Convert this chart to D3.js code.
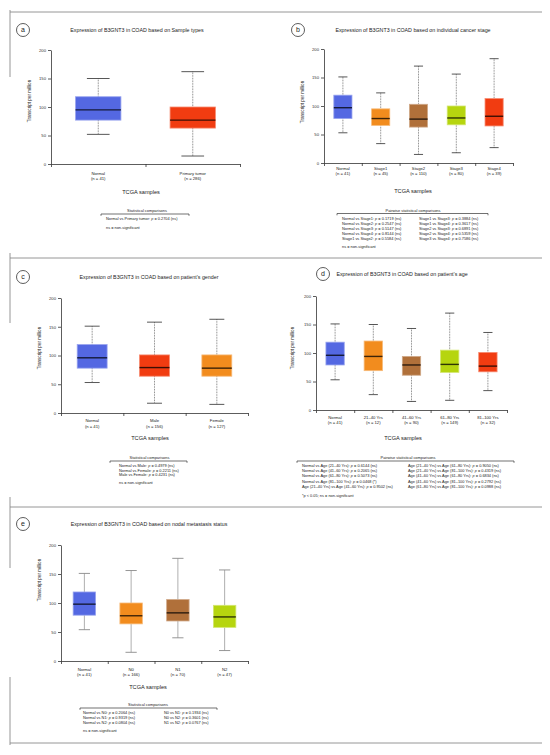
<!DOCTYPE html>
<html>
<head>
<meta charset="utf-8">
<script src="https://cdn.jsdelivr.net/npm/d3@7"></script>
<style>
  body { margin: 0; background: #fff; }
  svg { display: block; font-family: "Liberation Sans", Arial, sans-serif; }
</style>
</head>
<body>
<div id="chart"></div>
<script>
// ---- data ----
let yTicks = [0, 50, 100, 150, 200];

// a: sample types
let sampleCats = ["Normal", "Primary tumor"];
let sampleN = ["(n = 41)", "(n = 286)"];
let sampleMax = [150, 162];
let sampleQ3 = [118, 100];
let sampleMed = [95, 77];
let sampleQ1 = [77, 63];
let sampleMin = [52, 14];
let sampleStats = ["Normal vs Primary tumor: p = 0.2704 (ns)"];

// b: cancer stage
let stageCats = ["Normal", "Stage1", "Stage2", "Stage3", "Stage4"];
let stageN = ["(n = 41)", "(n = 45)", "(n = 110)", "(n = 80)", "(n = 39)"];
let stageMax = [151, 123, 170, 156, 183];
let stageQ3 = [119, 95, 103, 100, 113];
let stageMed = [97, 78, 77, 79, 82];
let stageQ1 = [78, 66, 63, 67, 65];
let stageMin = [53, 34, 15, 18, 27];
let stageStatsLeft = [
	"Normal vs Stage1: p = 0.1719 (ns)",
	"Normal vs Stage2: p = 0.2547 (ns)",
	"Normal vs Stage3: p = 0.5147 (ns)",
	"Normal vs Stage4: p = 0.8144 (ns)",
	"Stage1 vs Stage2: p = 0.5584 (ns)"
];
let stageStatsRight = [
	"Stage1 vs Stage3: p = 0.3884 (ns)",
	"Stage1 vs Stage4: p = 0.3617 (ns)",
	"Stage2 vs Stage3: p = 0.6891 (ns)",
	"Stage2 vs Stage4: p = 0.5359 (ns)",
	"Stage3 vs Stage4: p = 0.7586 (ns)"
];

// c: gender
let genderCats = ["Normal", "Male", "Female"];
let genderN = ["(n = 41)", "(n = 156)", "(n = 127)"];
let genderMax = [151, 158, 163];
let genderQ3 = [119, 101, 101];
let genderMed = [96, 79, 78];
let genderQ1 = [78, 64, 64];
let genderMin = [53, 17, 15];
let genderStats = [
	"Normal vs Male: p = 0.4979 (ns)",
	"Normal vs Female: p = 0.2211 (ns)",
	"Male vs Female: p = 0.4231 (ns)"
];

// d: age
let ageCats = ["Normal", "21\u201340 Yrs", "41\u201360 Yrs", "61\u201380 Yrs", "81\u2013100 Yrs"];
let ageN = ["(n = 41)", "(n = 12)", "(n = 90)", "(n = 149)", "(n = 32)"];
let ageMax = [151, 150, 143, 170, 136];
let ageQ3 = [119, 121, 94, 105, 101];
let ageMed = [96, 94, 79, 80, 77];
let ageQ1 = [79, 69, 61, 66, 67];
let ageMin = [53, 27, 15, 17, 34];
let ageStatsLeft = [
	"Normal vs Age (21\u201340 Yrs): p = 0.6144 (ns)",
	"Normal vs Age (41\u201360 Yrs): p = 0.2065 (ns)",
	"Normal vs Age (61\u201380 Yrs): p = 0.5073 (ns)",
	"Normal vs Age (81\u2013100 Yrs): p = 0.0468 (*)",
	"Age (21\u201340 Yrs) vs Age (41\u201360 Yrs): p = 0.9502 (ns)"
];
let ageStatsRight = [
	"Age (21\u201340 Yrs) vs Age (61\u201380 Yrs): p = 0.9050 (ns)",
	"Age (21\u201340 Yrs) vs Age (81\u2013100 Yrs): p = 0.4319 (ns)",
	"Age (41\u201360 Yrs) vs Age (61\u201380 Yrs): p = 0.6834 (ns)",
	"Age (41\u201360 Yrs) vs Age (81\u2013100 Yrs): p = 0.2792 (ns)",
	"Age (61\u201380 Yrs) vs Age (81\u2013100 Yrs): p = 0.0988 (ns)"
];

// e: nodal metastasis
let nodalCats = ["Normal", "N0", "N1", "N2"];
let nodalN = ["(n = 41)", "(n = 166)", "(n = 70)", "(n = 47)"];
let nodalMax = [151, 156, 177, 157];
let nodalQ3 = [119, 100, 106, 96];
let nodalMed = [98, 78, 83, 76];
let nodalQ1 = [79, 64, 69, 58];
let nodalMin = [54, 15, 40, 18];
let nodalStatsLeft = [
	"Normal vs N0: p = 0.2064 (ns)",
	"Normal vs N1: p = 0.9319 (ns)",
	"Normal vs N2: p = 0.0804 (ns)"
];
let nodalStatsRight = [
	"N0 vs N1: p = 0.1934 (ns)",
	"N0 vs N2: p = 0.3601 (ns)",
	"N1 vs N2: p = 0.0767 (ns)"
];

// ---- colours ----
let BLUE = "#5468e2", RED = "#f13c11", ORANGE = "#f28c1e", BROWN = "#b0703a", LIME = "#b6d50f";

let width = 550, height = 755;
let svg = d3.select("#chart").append("svg")
	.attr("width", width)
	.attr("height", height);

// frame lines between panels
let frameY = [12, 258, 507, 743];
frameY.forEach(function(fy) {
	svg.append("line")
		.attr("x1", 10).attr("x2", 542).attr("y1", fy).attr("y2", fy)
		.attr("stroke", "#8a8a8a").attr("stroke-width", 0.9);
});
[[10, 77], [253, 323], [497, 568], [677, 745]].forEach(function(s) {
	svg.append("line")
		.attr("x1", 10).attr("x2", 10).attr("y1", s[0]).attr("y2", s[1])
		.attr("stroke", "#8a8a8a").attr("stroke-width", 0.9);
});

// writes "... p = ..." with an italic p
function statText(g, str, x, y) {
	let t = g.append("text").attr("x", x).attr("y", y)
		.attr("font-size", 3.9).attr("fill", "#222");
	let i = str.indexOf(": p");
	if (i < 0) { t.text(str); return; }
	t.append("tspan").text(str.slice(0, i + 2));
	t.append("tspan").attr("font-style", "italic").text("p");
	t.append("tspan").text(str.slice(i + 3));
}

function drawPanel(p) {
	let g = svg.append("g");
	let n = p.cats.length;

	let x = d3.scaleBand().domain(p.cats).range([p.x0, p.x1]);
	let xl = d3.scaleLinear().domain([0, n]).range([p.x0, p.x1]);
	let y = d3.scaleLinear().domain([0, 200]).range([p.yBot, p.yTop]);

	// panel letter
	g.append("circle").attr("cx", p.cx).attr("cy", p.cy).attr("r", 6.5)
		.attr("fill", "none").attr("stroke", "#333").attr("stroke-width", 0.8);
	g.append("text").attr("x", p.cx).attr("y", p.cy + 2.3)
		.attr("text-anchor", "middle").attr("font-size", 7).attr("fill", "#222")
		.text(p.letter);

	// title
	g.append("text").attr("x", p.titleX).attr("y", p.cy + 1.8)
		.attr("text-anchor", "middle").attr("font-size", 5.3).attr("fill", "#222")
		.text(p.title);

	// axes
	let xa = g.append("g")
		.attr("transform", "translate(0," + p.yBot + ")")
		.call(d3.axisBottom(xl).tickValues(d3.range(n + 1)).tickFormat("").tickSize(3).tickSizeOuter(0));
	let ya = g.append("g")
		.attr("transform", "translate(" + p.x0 + ",0)")
		.call(d3.axisLeft(y).tickValues(yTicks).tickSize(3).tickSizeOuter(0).tickPadding(2));
	[xa, ya].forEach(function(a) {
		a.selectAll("path, line").attr("stroke", "#333").attr("stroke-width", 0.8);
		a.selectAll("text").attr("font-size", 4.2).attr("fill", "#333")
			.attr("font-family", "Liberation Sans, Arial, sans-serif");
	});

	g.append("text")
		.attr("transform", "translate(" + p.ylabX + "," + p.ylabY + ") rotate(-90)")
		.attr("text-anchor", "middle").attr("font-size", 4.6).attr("fill", "#222")
		.text("Transcript per million");

	// boxes
	let bw = x.bandwidth() * 0.48;
	let cw = bw * 0.5;
	p.cats.forEach(function(c, i) {
		let cx = x(c) + x.bandwidth() / 2;
		let col = p.colors[i];
		let wh = g.append("g")
			.attr("stroke", p.solidWhisker ? "#9a9a9a" : "#444")
			.attr("stroke-width", p.solidWhisker ? 0.8 : 0.7)
			.attr("stroke-dasharray", p.solidWhisker ? null : "0.8,0.8");
		wh.append("line").attr("x1", cx).attr("x2", cx).attr("y1", y(p.max[i])).attr("y2", y(p.q3[i]));
		wh.append("line").attr("x1", cx).attr("x2", cx).attr("y1", y(p.q1[i])).attr("y2", y(p.min[i]));
		[p.max[i], p.min[i]].forEach(function(v) {
			g.append("line").attr("x1", cx - cw / 2).attr("x2", cx + cw / 2)
				.attr("y1", y(v)).attr("y2", y(v))
				.attr("stroke", p.solidWhisker ? "#8a8a8a" : "#444").attr("stroke-width", 0.9);
		});
		g.append("rect")
			.attr("x", cx - bw / 2).attr("width", bw)
			.attr("y", y(p.q3[i])).attr("height", y(p.q1[i]) - y(p.q3[i]))
			.attr("fill", col)
			.attr("stroke", d3.interpolateRgb(col, "#fff")(0.4)).attr("stroke-width", 0.8);
		g.append("line").attr("x1", cx - bw / 2).attr("x2", cx + bw / 2)
			.attr("y1", y(p.med[i])).attr("y2", y(p.med[i]))
			.attr("stroke", d3.interpolateRgb(col, "#000")(0.75)).attr("stroke-width", 1.4);

		g.append("text").attr("x", cx).attr("y", p.lab1Y)
			.attr("text-anchor", "middle").attr("font-size", 4.2).attr("fill", "#222").text(c);
		g.append("text").attr("x", cx).attr("y", p.lab2Y)
			.attr("text-anchor", "middle").attr("font-size", 4.2).attr("fill", "#222").text(p.nLab[i]);
	});

	g.append("text").attr("x", p.tcgaX).attr("y", p.tcgaY)
		.attr("text-anchor", "middle").attr("font-size", 5.6).attr("fill", "#222")
		.text("TCGA samples");

	// statistical comparisons block
	g.append("text").attr("x", p.headX).attr("y", p.headY)
		.attr("text-anchor", "middle").attr("font-size", 3.9).attr("fill", "#222")
		.text(p.heading);
	g.append("path")
		.attr("d", "M" + p.brX0 + "," + (p.brY + 1.8) + "L" + p.brX0 + "," + p.brY +
			"L" + p.brX1 + "," + p.brY + "L" + p.brX1 + "," + (p.brY + 1.8))
		.attr("fill", "none").attr("stroke", "#333").attr("stroke-width", 0.7);
	p.cols.forEach(function(col) {
		col.rows.forEach(function(r, j) {
			statText(g, r, col.x, p.rowY + j * p.rowStep);
		});
	});
	g.append("text").attr("x", p.noteX).attr("y", p.noteY)
		.attr("font-size", 3.9).attr("fill", "#222").text(p.note);
}

drawPanel({
	letter: "a", title: "Expression of B3GNT3 in COAD based on Sample types",
	cats: sampleCats, nLab: sampleN, max: sampleMax, q3: sampleQ3, med: sampleMed, q1: sampleQ1, min: sampleMin,
	colors: [BLUE, RED],
	x0: 51, x1: 240, yTop: 50, yBot: 164,
	cx: 23, cy: 30, titleX: 137,
	lab1Y: 175, lab2Y: 180, tcgaX: 141, tcgaY: 193.5,
	ylabX: 31, ylabY: 101,
	heading: "Statistical comparisons", headX: 147, headY: 212,
	brX0: 101, brX1: 189, brY: 214,
	cols: [{x: 106, rows: sampleStats}], rowY: 220, rowStep: 5,
	note: "ns = non-significant", noteX: 106, noteY: 229
});

drawPanel({
	letter: "b", title: "Expression of B3GNT3 in COAD based on individual cancer stage",
	cats: stageCats, nLab: stageN, max: stageMax, q3: stageQ3, med: stageMed, q1: stageQ1, min: stageMin,
	colors: [BLUE, ORANGE, BROWN, LIME, RED],
	x0: 324, x1: 513, yTop: 49, yBot: 163,
	cx: 298, cy: 30, titleX: 413,
	lab1Y: 170, lab2Y: 175, tcgaX: 413, tcgaY: 193,
	ylabX: 304, ylabY: 102,
	heading: "Pairwise statistical comparisons", headX: 413, headY: 211.5,
	brX0: 337, brX1: 488, brY: 213.5,
	cols: [{x: 342, rows: stageStatsLeft}, {x: 419, rows: stageStatsRight}], rowY: 219.5, rowStep: 5,
	note: "ns = non-significant", noteX: 342, noteY: 247.5
});

drawPanel({
	letter: "c", title: "Expression of B3GNT3 in COAD based on patient\u2019s gender",
	cats: genderCats, nLab: genderN, max: genderMax, q3: genderQ3, med: genderMed, q1: genderQ1, min: genderMin,
	colors: [BLUE, RED, ORANGE],
	x0: 61, x1: 248, yTop: 298, yBot: 413,
	cx: 23, cy: 277, titleX: 149,
	lab1Y: 422, lab2Y: 427.5, tcgaX: 150, tcgaY: 440,
	ylabX: 41, ylabY: 348,
	heading: "Statistical comparisons", headX: 149.5, headY: 459,
	brX0: 110, brX1: 187, brY: 461,
	cols: [{x: 119, rows: genderStats}], rowY: 467, rowStep: 4.7,
	note: "ns = non-significant", noteX: 119, noteY: 484
});

drawPanel({
	letter: "d", title: "Expression of B3GNT3 in COAD based on patient\u2019s age",
	cats: ageCats, nLab: ageN, max: ageMax, q3: ageQ3, med: ageMed, q1: ageQ1, min: ageMin,
	colors: [BLUE, ORANGE, BROWN, LIME, RED],
	x0: 316, x1: 507, yTop: 296, yBot: 410,
	cx: 323, cy: 274, titleX: 402,
	lab1Y: 419, lab2Y: 424, tcgaX: 403, tcgaY: 440,
	ylabX: 294, ylabY: 348,
	heading: "Pairwise statistical comparisons", headX: 408, headY: 459,
	brX0: 297, brX1: 514, brY: 461,
	cols: [{x: 302, rows: ageStatsLeft}, {x: 408, rows: ageStatsRight}], rowY: 467, rowStep: 5.2,
	note: "*p < 0.05; ns = non-significant", noteX: 302, noteY: 497
});

drawPanel({
	letter: "e", title: "Expression of B3GNT3 in COAD based on nodal metastasis status",
	cats: nodalCats, nLab: nodalN, max: nodalMax, q3: nodalQ3, med: nodalMed, q1: nodalQ1, min: nodalMin,
	colors: [BLUE, ORANGE, BROWN, LIME],
	x0: 61, x1: 248, yTop: 545, yBot: 661, solidWhisker: true,
	cx: 23, cy: 524, titleX: 149,
	lab1Y: 671, lab2Y: 676, tcgaX: 148, tcgaY: 689,
	ylabX: 41, ylabY: 580,
	heading: "Statistical comparisons", headX: 148, headY: 706,
	brX0: 80, brX1: 217, brY: 708,
	cols: [{x: 83, rows: nodalStatsLeft}, {x: 164, rows: nodalStatsRight}], rowY: 714, rowStep: 5,
	note: "ns = non-significant", noteX: 83, noteY: 732
});
</script>
</body>
</html>
